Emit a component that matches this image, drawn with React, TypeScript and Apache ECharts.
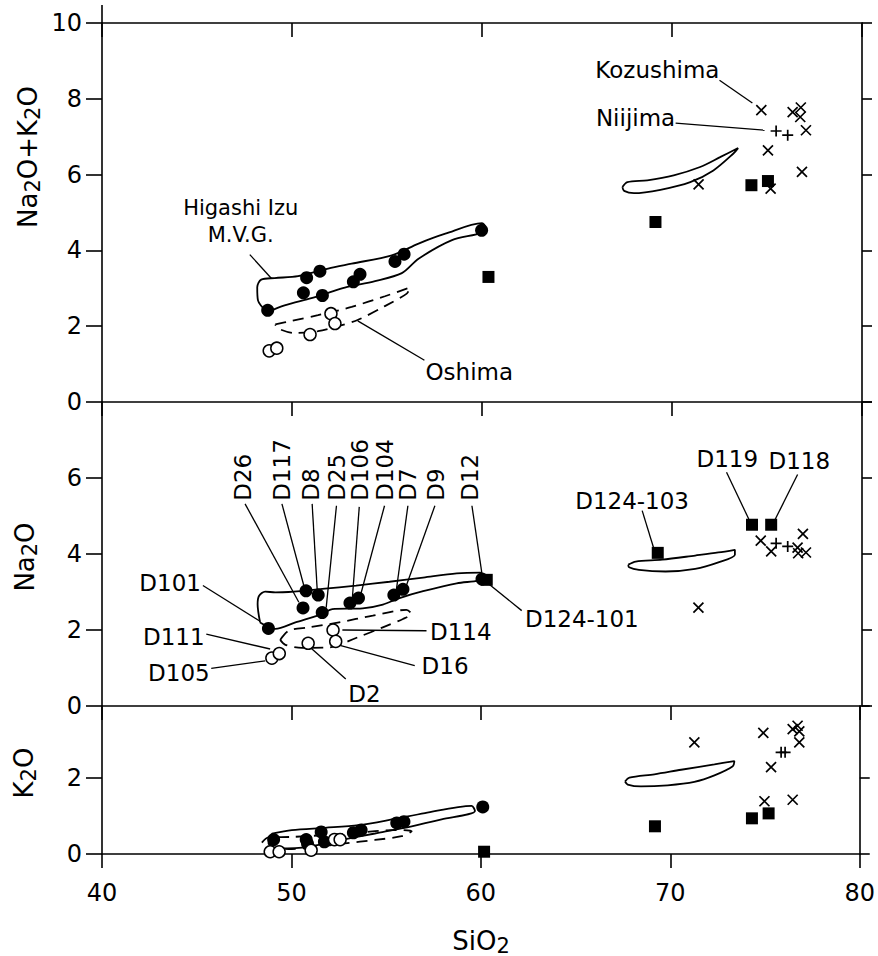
import React, { useEffect, useRef } from "react";
import * as echarts from "echarts";

const FONT = '"DejaVu Sans", "Liberation Sans", sans-serif';

// ---------- axes ----------
const X_MIN = 40;
const X_MAX = 80;
const X_STEP = 10;
const Y_STEP = 2;
const yMaxima = [10, 8, 3.9];

// ---------- Panel 1: Na2O+K2O vs SiO2 ----------
const sumIzu = [[48.72, 2.42], [50.6, 2.88], [50.77, 3.28], [51.47, 3.45], [51.6, 2.81], [53.23, 3.17], [53.58, 3.37], [55.42, 3.71], [55.9, 3.9], [59.98, 4.53]];
const sumOshima = [[48.8, 1.35], [49.2, 1.42], [50.95, 1.78], [52.05, 2.33], [52.26, 2.07]];
const sumSquares = [[60.34, 3.3], [69.13, 4.75], [74.18, 5.72], [75.05, 5.83]];
const sumKozushima = [[74.7, 7.7], [76.35, 7.65], [76.78, 7.77], [76.75, 7.52], [77.05, 7.17], [75.05, 6.64], [76.84, 6.07], [75.19, 5.63], [71.4, 5.74]];
const sumNiijima = [[75.48, 7.15], [76.09, 7.04]];
const sumEnvIzu = [[48.7, 2.37], [48.21, 2.68], [48.17, 3.03], [48.38, 3.23], [49.09, 3.27], [50.32, 3.32], [51.9, 3.52], [53.14, 3.65], [55.25, 3.87], [56.66, 4.18], [58.07, 4.44], [60.0, 4.72], [60.17, 4.62], [60.0, 4.47], [58.42, 4.27], [56.66, 3.78], [55.78, 3.4], [54.37, 3.19], [52.78, 3.02], [51.9, 2.88], [51.02, 2.74], [49.61, 2.55], [48.7, 2.37]];
const sumEnvOshima = [[49.12, 2.05], [49.97, 2.14], [51.37, 2.29], [53.14, 2.51], [54.89, 2.79], [56.21, 3.02], [56.04, 2.86], [54.89, 2.53], [53.48, 2.17], [52.43, 2.0], [51.37, 1.87], [50.14, 1.82], [49.26, 1.94], [49.12, 2.05]];
const sumEnvRhyolite = [[67.39, 5.67], [67.65, 5.8], [68.7, 5.85], [70.09, 5.98], [71.48, 6.2], [72.53, 6.46], [73.48, 6.7], [73.22, 6.55], [72.18, 6.11], [70.96, 5.8], [69.39, 5.6], [68.0, 5.51], [67.48, 5.57], [67.39, 5.67]];

// ---------- Panel 2: Na2O vs SiO2 ----------
const naIzuNames = ["D101", "D26", "D117", "D8", "D25", "D106", "D104", "D7", "D9", "D12"];
const naIzu = [[48.76, 2.04], [50.58, 2.58], [50.74, 3.03], [51.38, 2.92], [51.59, 2.46], [53.05, 2.71], [53.5, 2.84], [55.36, 2.92], [55.84, 3.07], [60.0, 3.34]];
const naOshimaNames = ["D105", "D111", "D2", "D114", "D16"];
const naOshima = [[48.94, 1.26], [49.33, 1.38], [50.85, 1.65], [52.16, 2.0], [52.3, 1.7]];
const naSquareNames = ["D124-101", "D124-103", "D119", "D118"];
const naSquares = [[60.25, 3.32], [69.25, 4.03], [74.21, 4.77], [75.22, 4.77]];
const naKozushima = [[74.67, 4.35], [75.22, 4.07], [76.89, 4.53], [76.61, 4.17], [76.64, 4.02], [77.05, 4.04], [71.39, 2.59]];
const naNiijima = [[75.48, 4.28], [76.09, 4.2]];
const naEnvIzu = [[48.32, 2.2], [48.19, 2.68], [48.27, 2.9], [48.59, 3.01], [49.12, 2.99], [49.82, 3.0], [51.59, 3.08], [53.37, 3.17], [55.13, 3.27], [56.9, 3.38], [58.67, 3.49], [59.91, 3.51], [60.08, 3.38], [59.82, 3.3], [58.67, 3.23], [56.9, 3.02], [55.66, 2.84], [54.78, 2.67], [53.72, 2.57], [52.12, 2.55], [51.59, 2.42], [50.18, 2.2], [49.12, 2.03], [48.32, 2.2]];
const naEnvOshima = [[49.38, 1.74], [49.82, 1.98], [50.89, 2.07], [52.48, 2.2], [54.25, 2.38], [56.02, 2.53], [56.28, 2.42], [55.84, 2.29], [54.78, 2.07], [53.37, 1.79], [51.95, 1.54], [50.53, 1.53], [49.65, 1.61], [49.38, 1.74]];
const naEnvRhyolite = [[67.7, 3.72], [68.09, 3.8], [69.48, 3.85], [71.22, 3.96], [72.44, 4.04], [73.31, 4.11], [73.31, 3.98], [72.44, 3.78], [71.22, 3.61], [69.66, 3.54], [68.26, 3.58], [67.74, 3.65], [67.7, 3.72]];

// ---------- Panel 3: K2O vs SiO2 ----------
const kIzu = [[49.06, 0.38], [50.78, 0.38], [50.85, 0.27], [51.57, 0.58], [51.74, 0.32], [53.27, 0.56], [53.68, 0.63], [55.56, 0.82], [55.94, 0.85], [60.1, 1.24]];
const kOshima = [[48.88, 0.06], [49.35, 0.06], [51.04, 0.1], [52.27, 0.38], [52.57, 0.38]];
const kSquares = [[60.17, 0.06], [69.19, 0.73], [74.31, 0.94], [75.19, 1.07]];
const kKozushima = [[71.27, 2.94], [74.91, 3.19], [76.46, 3.29], [76.72, 3.38], [76.81, 3.23], [76.81, 2.94], [75.32, 2.29], [74.97, 1.39], [76.46, 1.43]];
const kNiijima = [[75.85, 2.68], [76.06, 2.68]];
const kEnvIzu = [[48.97, 0.54], [50.02, 0.63], [51.78, 0.69], [53.54, 0.76], [55.3, 0.91], [57.05, 1.08], [59.51, 1.27], [59.69, 1.13], [57.93, 0.91], [56.35, 0.73], [54.41, 0.54], [52.66, 0.37], [50.9, 0.19], [49.32, 0.15], [48.79, 0.28], [48.97, 0.54]];
const kEnvOshima = [[48.44, 0.3], [48.79, 0.44], [50.02, 0.45], [51.78, 0.5], [53.54, 0.56], [55.3, 0.63], [56.35, 0.6], [55.82, 0.47], [54.41, 0.37], [52.83, 0.28], [51.43, 0.19], [50.02, 0.13], [48.79, 0.19], [48.44, 0.3]];
const kEnvRhyolite = [[67.61, 1.91], [67.84, 2.01], [69.16, 2.1], [70.57, 2.22], [72.33, 2.36], [73.38, 2.45], [73.3, 2.31], [72.33, 2.07], [71.27, 1.9], [69.86, 1.81], [68.45, 1.78], [67.75, 1.83], [67.61, 1.91]];

// ---------- annotations (text, anchor in data units) ----------
const sumNotes = [
  { text: "Higashi Izu\nM.V.G.", at: [47.3, 4.76], fontSize: 21, lineHeight: 27 },
  { text: "Oshima", at: [59.33, 0.78] },
  { text: "Kozushima", at: [69.23, 8.75] },
  { text: "Niijima", at: [68.08, 7.49] },
];
const sumLeaders = [
  [[47.78, 3.89], [48.92, 3.26]],
  [[53.46, 2.14], [56.97, 1.1]],
  [[72.5, 8.49], [74.23, 7.89]],
  [[70.19, 7.36], [74.87, 7.17]],
];
const naNotes = [
  { text: "D26", at: [47.44, 5.4], rotate: 90, align: "left" },
  { text: "D117", at: [49.47, 5.4], rotate: 90, align: "left" },
  { text: "D8", at: [51.02, 5.4], rotate: 90, align: "left" },
  { text: "D25", at: [52.39, 5.4], rotate: 90, align: "left" },
  { text: "D106", at: [53.6, 5.4], rotate: 90, align: "left" },
  { text: "D104", at: [54.87, 5.4], rotate: 90, align: "left" },
  { text: "D7", at: [56.13, 5.4], rotate: 90, align: "left" },
  { text: "D9", at: [57.56, 5.4], rotate: 90, align: "left" },
  { text: "D12", at: [59.38, 5.4], rotate: 90, align: "left" },
  { text: "D101", at: [45.21, 3.23], align: "right" },
  { text: "D111", at: [45.4, 1.81], align: "right" },
  { text: "D105", at: [45.67, 0.88], align: "right" },
  { text: "D2", at: [53.81, 0.32] },
  { text: "D16", at: [56.82, 1.06], align: "left" },
  { text: "D114", at: [57.26, 1.94], align: "left" },
  { text: "D124-101", at: [62.26, 2.29], align: "left" },
  { text: "D124-103", at: [67.9, 5.4] },
  { text: "D119", at: [72.91, 6.5] },
  { text: "D118", at: [76.7, 6.46] },
];
const naLeaders = [
  [[47.53, 5.32], [50.36, 2.73]],
  [[49.47, 5.32], [50.62, 3.17]],
  [[51.06, 5.32], [51.33, 3.03]],
  [[52.34, 5.27], [51.8, 2.59]],
  [[53.54, 5.24], [53.18, 2.86]],
  [[54.87, 5.27], [53.63, 2.96]],
  [[56.1, 5.27], [55.49, 3.05]],
  [[57.52, 5.27], [56.02, 3.17]],
  [[59.47, 5.27], [60.0, 3.47]],
  [[45.31, 3.17], [48.32, 2.23]],
  [[45.49, 1.89], [48.85, 1.5]],
  [[45.75, 0.99], [48.59, 1.19]],
  [[52.83, 0.71], [50.98, 1.53]],
  [[56.46, 1.06], [52.57, 1.59]],
  [[57.08, 1.98], [52.65, 2.0]],
  [[62.09, 2.51], [60.26, 3.25]],
  [[68.43, 5.14], [69.05, 4.13]],
  [[72.87, 6.15], [74.04, 4.92]],
  [[76.61, 6.09], [75.4, 4.88]],
];

// ---------- layout ----------
const GRID_LEFT = 102;
const GRID_WIDTH = 760;
const grids = [
  { top: 23, height: 379 },
  { top: 402, height: 304 },
  { top: 706, height: 148 },
];

const CROSS = "path://M0,0L10,10M10,0L0,10";
const PLUS = "path://M5,0L5,10M0,5L10,5";

function envelope(g: number, data: number[][], dashed: boolean) {
  return {
    type: "line",
    xAxisIndex: g,
    yAxisIndex: g,
    data,
    symbol: "none",
    showSymbol: false,
    smooth: 0.3,
    silent: true,
    z: 2,
    lineStyle: { color: "#000", width: 1.8, opacity: 1, type: dashed ? [11, 7] : "solid" },
  };
}

function points(g: number, data: any[], kind: string) {
  const base: any = { type: "scatter", xAxisIndex: g, yAxisIndex: g, data, silent: true, z: 4 };
  if (kind === "filled") return { ...base, symbol: "circle", symbolSize: 13, itemStyle: { color: "#000", opacity: 1 } };
  if (kind === "open")
    return { ...base, symbol: "circle", symbolSize: 12, itemStyle: { color: "#fff", borderColor: "#000", borderWidth: 1.5, opacity: 1 } };
  if (kind === "square") return { ...base, symbol: "rect", symbolSize: 12, itemStyle: { color: "#000", opacity: 1 } };
  if (kind === "cross")
    return { ...base, symbol: CROSS, symbolSize: 10, itemStyle: { color: "rgba(0,0,0,0)", borderColor: "#000", borderWidth: 1.7, opacity: 1 } };
  return { ...base, symbol: PLUS, symbolSize: 11, itemStyle: { color: "rgba(0,0,0,0)", borderColor: "#000", borderWidth: 1.7, opacity: 1 } };
}

function notes(g: number, items: any[]) {
  return {
    type: "scatter",
    xAxisIndex: g,
    yAxisIndex: g,
    symbolSize: 1,
    silent: true,
    z: 6,
    itemStyle: { color: "rgba(0,0,0,0)", opacity: 1 },
    label: {
      show: true,
      position: "inside",
      formatter: "{b}",
      fontSize: 23,
      fontFamily: FONT,
      color: "#000",
      opacity: 1,
      verticalAlign: "middle",
    },
    data: items.map((a) => {
      const lab: any = { align: a.align || "center", rotate: a.rotate || 0 };
      if (a.fontSize) lab.fontSize = a.fontSize;
      if (a.lineHeight) lab.lineHeight = a.lineHeight;
      return { name: a.text, value: a.at, label: lab };
    }),
  };
}

function leaders(g: number, segs: number[][][]) {
  return {
    type: "lines",
    coordinateSystem: "cartesian2d",
    xAxisIndex: g,
    yAxisIndex: g,
    silent: true,
    z: 3,
    lineStyle: { color: "#000", width: 1.3, opacity: 1, curveness: 0 },
    data: segs.map((c) => ({ coords: c })),
  };
}

const axisLineStyle = { color: "#000", width: 1.6 };

export default function App() {
  const ref = useRef<HTMLDivElement>(null);

  useEffect(() => {
    if (!ref.current) return;
    const chart = echarts.init(ref.current, undefined, { renderer: "svg" });

    const xAxes: any[] = grids.map((_, g) => ({
      gridIndex: g,
      type: "value",
      min: X_MIN,
      max: X_MAX,
      interval: X_STEP,
      position: "top",
      axisLine: { show: true, onZero: false, lineStyle: axisLineStyle },
      axisTick: { show: true, inside: true, length: 14, lineStyle: axisLineStyle },
      axisLabel: { show: false },
      splitLine: { show: false },
    }));
    xAxes.push({
      gridIndex: 2,
      type: "value",
      min: X_MIN,
      max: X_MAX,
      interval: X_STEP,
      position: "bottom",
      axisLine: { show: true, onZero: false, lineStyle: axisLineStyle },
      axisTick: { show: true, inside: false, length: 14, lineStyle: axisLineStyle },
      axisLabel: { show: true, fontSize: 24, fontFamily: FONT, color: "#000", margin: 27 },
      splitLine: { show: false },
    });

    const yLeft = grids.map((_, g) => ({
      gridIndex: g,
      type: "value",
      min: 0,
      max: yMaxima[g],
      interval: Y_STEP,
      position: "left",
      axisLine: { show: true, onZero: false, lineStyle: axisLineStyle },
      axisTick: { show: true, inside: false, length: 16, lineStyle: axisLineStyle },
      axisLabel: {
        show: true,
        fontSize: 24,
        fontFamily: FONT,
        color: "#000",
        margin: 20,
        showMaxLabel: g === 0,
      },
      splitLine: { show: false },
    }));
    const yRight = grids.map((_, g) => ({
      gridIndex: g,
      type: "value",
      min: 0,
      max: yMaxima[g],
      interval: Y_STEP,
      position: "right",
      axisLine: { show: true, onZero: false, lineStyle: axisLineStyle },
      axisTick: { show: true, inside: false, length: 10, lineStyle: axisLineStyle },
      axisLabel: { show: false },
      splitLine: { show: false },
    }));

    const rich = { s: { fontSize: 21, fontFamily: FONT, verticalAlign: "bottom", color: "#000" } };
    const titleStyle = (text: string) => ({
      text,
      fontSize: 26,
      fontFamily: FONT,
      fill: "#000",
      align: "center",
      verticalAlign: "middle",
      lineHeight: 30,
      rich,
    });

    chart.setOption({
      animation: false,
      backgroundColor: "#fff",
      grid: grids.map((gr) => ({ left: GRID_LEFT, width: GRID_WIDTH, top: gr.top, height: gr.height })),
      xAxis: xAxes,
      yAxis: [...yLeft, ...yRight],
      graphic: [
        { type: "line", shape: { x1: GRID_LEFT, y1: 5, x2: GRID_LEFT, y2: grids[0].top }, style: { stroke: "#000", lineWidth: 1.6 } },
        { type: "text", x: 28, y: 157, rotation: Math.PI / 2, style: titleStyle("Na{s|2}O+K{s|2}O") },
        { type: "text", x: 25, y: 557, rotation: Math.PI / 2, style: titleStyle("Na{s|2}O") },
        { type: "text", x: 24, y: 773, rotation: Math.PI / 2, style: titleStyle("K{s|2}O") },
        { type: "text", x: 481, y: 941, style: titleStyle("SiO{s|2}") },
      ],
      series: [
        envelope(0, sumEnvIzu, false),
        envelope(0, sumEnvOshima, true),
        envelope(0, sumEnvRhyolite, false),
        envelope(1, naEnvIzu, false),
        envelope(1, naEnvOshima, true),
        envelope(1, naEnvRhyolite, false),
        envelope(2, kEnvIzu, false),
        envelope(2, kEnvOshima, true),
        envelope(2, kEnvRhyolite, false),
        leaders(0, sumLeaders),
        leaders(1, naLeaders),
        points(0, sumIzu, "filled"),
        points(0, sumOshima, "open"),
        points(0, sumSquares, "square"),
        points(0, sumKozushima, "cross"),
        points(0, sumNiijima, "plus"),
        points(1, naIzu.map((v, i) => ({ name: naIzuNames[i], value: v })), "filled"),
        points(1, naOshima.map((v, i) => ({ name: naOshimaNames[i], value: v })), "open"),
        points(1, naSquares.map((v, i) => ({ name: naSquareNames[i], value: v })), "square"),
        points(1, naKozushima, "cross"),
        points(1, naNiijima, "plus"),
        points(2, kIzu, "filled"),
        points(2, kOshima, "open"),
        points(2, kSquares, "square"),
        points(2, kKozushima, "cross"),
        points(2, kNiijima, "plus"),
        notes(0, sumNotes),
        notes(1, naNotes),
      ],
    });

    return () => chart.dispose();
  }, []);

  return (
    <div
      ref={ref}
      style={{ position: "absolute", left: 0, top: 0, width: 878, height: 956, background: "#fff" }}
    />
  );
}
